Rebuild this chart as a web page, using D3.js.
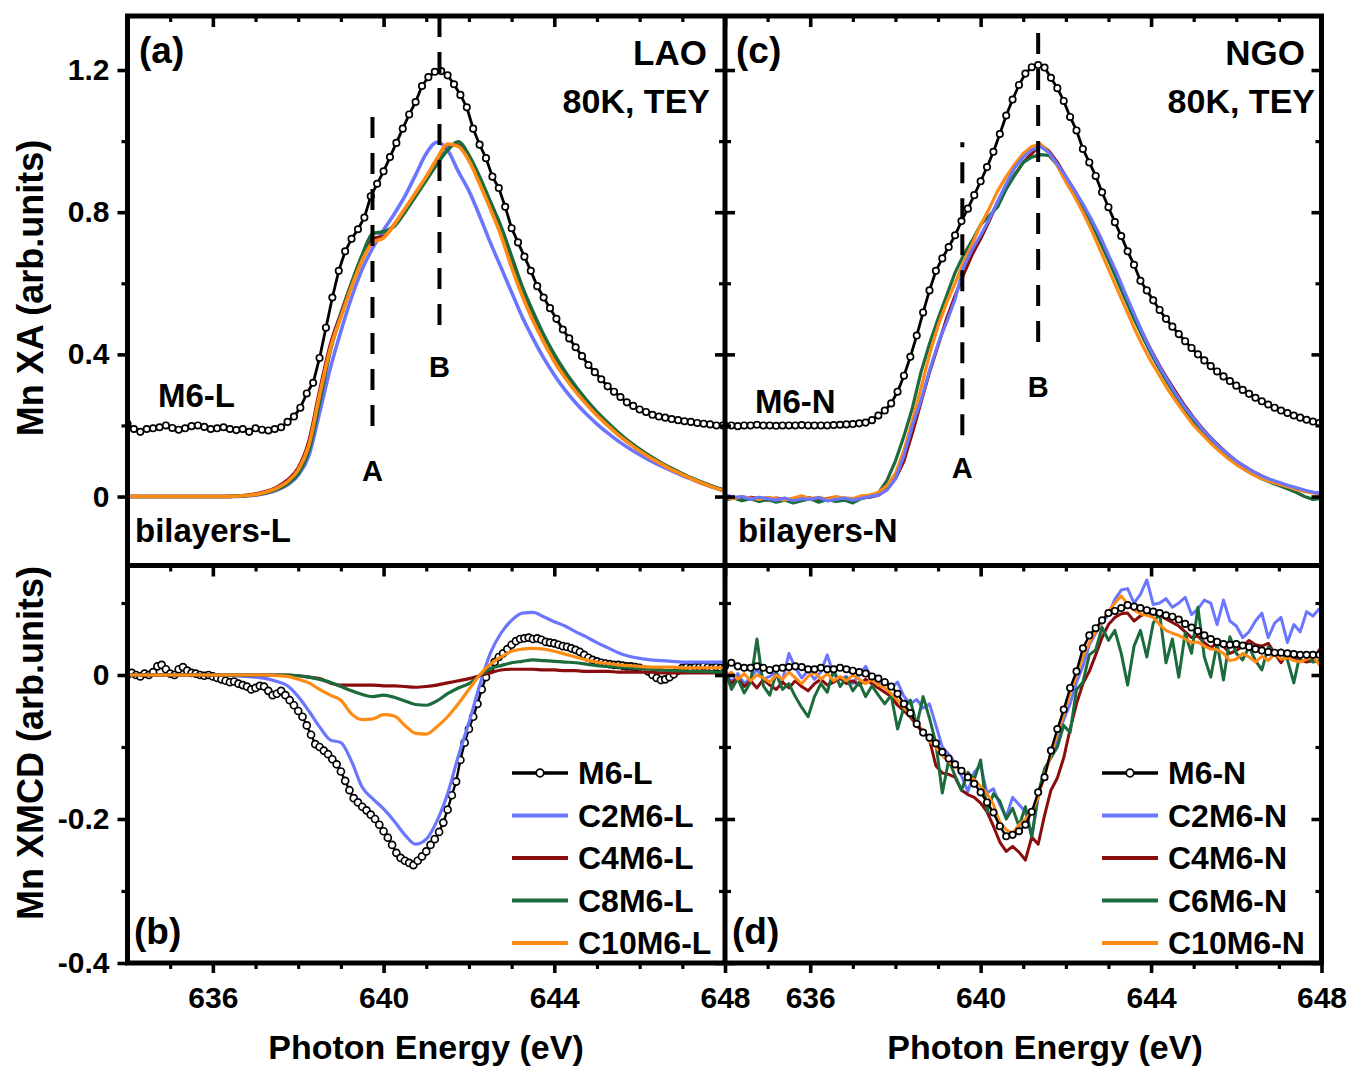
<!DOCTYPE html>
<html>
<head>
<meta charset="utf-8">
<script src="https://cdn.jsdelivr.net/npm/d3@7"></script>
<style>
  body { margin: 0; background: #fff; }
  svg text { font-family: "Liberation Sans", Arial, sans-serif; font-weight: bold; fill: #000; }
</style>
</head>
<body>
<svg id="chart" width="1351" height="1066"></svg>
<script>
// ---------------------------------------------------------------------------
// Mn L3-edge spectra. Every scan starts at 634 eV; each array below holds the
// intensities on its own uniform energy step.
// ---------------------------------------------------------------------------
const ENERGY_START = 634;

// (a) XA on LAO substrates
const STEP_XA_LAO_M6 = 0.15;
const xaLAO_M6 = [
  0.205,0.19,0.182,0.19,0.192,0.195,0.2,0.193,0.188,0.192,
  0.198,0.2,0.196,0.19,0.192,0.195,0.19,0.187,0.19,0.182,
  0.192,0.188,0.186,0.19,0.195,0.21,0.225,0.25,0.29,0.32,
  0.39,0.475,0.56,0.635,0.69,0.725,0.752,0.785,0.845,0.88,
  0.915,0.955,0.995,1.035,1.075,1.11,1.155,1.18,1.195,1.197,
  1.185,1.16,1.13,1.095,1.035,0.99,0.952,0.9,0.868,0.815,
  0.755,0.715,0.675,0.635,0.592,0.56,0.53,0.5,0.47,0.445,
  0.42,0.395,0.37,0.35,0.33,0.31,0.295,0.28,0.265,0.255,
  0.245,0.238,0.23,0.225,0.222,0.218,0.215,0.212,0.21,0.207,
  0.205,0.203,0.2,0.2
];
const STEP_XA_LAO_BI = 0.25;
const xaLAO_C2 = [
  0,0,0,0,0,0,0,0,0,0,
  0.0,0.002,0.004,0.009,0.018,0.033,0.06,0.115,0.235,0.36,
  0.465,0.56,0.64,0.7,0.75,0.795,0.845,0.905,0.965,0.997,
  0.975,0.915,0.86,0.79,0.715,0.645,0.575,0.505,0.445,0.39,
  0.342,0.3,0.264,0.232,0.204,0.179,0.156,0.136,0.118,0.101,
  0.086,0.072,0.059,0.047,0.035,0.025,0.015
];
const xaLAO_C4 = [
  0,0,0,0,0,0,0,0,0,0,
  0.001,0.003,0.007,0.014,0.026,0.046,0.08,0.155,0.295,0.425,
  0.515,0.6,0.675,0.725,0.732,0.765,0.808,0.852,0.898,0.948,
  0.99,0.988,0.95,0.885,0.815,0.742,0.655,0.575,0.505,0.445,
  0.39,0.343,0.302,0.266,0.233,0.204,0.177,0.153,0.131,0.111,
  0.094,0.078,0.063,0.049,0.037,0.026,0.016
];
const xaLAO_C8 = [
  0,0,0,0,0,0,0,0,0,0,
  0.001,0.002,0.005,0.011,0.02,0.036,0.065,0.13,0.265,0.41,
  0.51,0.6,0.68,0.74,0.745,0.76,0.8,0.845,0.89,0.935,
  0.975,0.998,0.96,0.9,0.83,0.76,0.675,0.59,0.52,0.455,
  0.4,0.352,0.31,0.272,0.238,0.208,0.18,0.155,0.133,0.113,
  0.095,0.079,0.064,0.05,0.038,0.027,0.017
];
const xaLAO_C10 = [
  0,0,0,0,0,0,0,0,0,0,
  0.001,0.003,0.006,0.013,0.024,0.042,0.075,0.145,0.285,0.415,
  0.505,0.59,0.665,0.715,0.728,0.765,0.81,0.855,0.9,0.95,
  0.992,0.985,0.945,0.88,0.81,0.735,0.645,0.565,0.495,0.435,
  0.38,0.335,0.295,0.26,0.228,0.2,0.173,0.15,0.128,0.109,
  0.092,0.076,0.062,0.048,0.036,0.025,0.015
];

// (b) XMCD on LAO substrates
const STEP_MCD_LAO_M6 = 0.1;
const mcdLAO_M6 = [
  0.0,0.003,0.0,-0.002,0.002,0.0,0.004,0.012,0.014,0.008,
  0.002,0.0,0.008,0.011,0.006,0.003,0.002,0.0,-0.001,0.0,
  -0.002,-0.004,-0.006,-0.008,-0.01,-0.009,-0.012,-0.014,-0.016,-0.02,
  -0.018,-0.015,-0.016,-0.022,-0.028,-0.026,-0.022,-0.028,-0.035,-0.042,
  -0.05,-0.058,-0.07,-0.083,-0.096,-0.1,-0.105,-0.11,-0.117,-0.124,
  -0.134,-0.147,-0.16,-0.171,-0.177,-0.183,-0.188,-0.194,-0.2,-0.208,
  -0.217,-0.226,-0.236,-0.247,-0.254,-0.258,-0.261,-0.264,-0.258,-0.252,
  -0.245,-0.236,-0.228,-0.218,-0.205,-0.187,-0.167,-0.148,-0.118,-0.094,
  -0.075,-0.058,-0.04,-0.02,-0.003,0.01,0.018,0.025,0.03,0.036,
  0.042,0.047,0.05,0.051,0.052,0.05,0.051,0.049,0.046,0.045,
  0.044,0.042,0.04,0.039,0.037,0.035,0.032,0.028,0.024,0.021,
  0.019,0.017,0.016,0.015,0.014,0.014,0.013,0.012,0.012,0.011,
  0.01,0.008,0.005,0.0,-0.004,-0.007,-0.006,-0.003,0.001,0.006,
  0.01,0.011,0.01,0.011,0.011,0.012,0.011,0.01,0.011,0.01,
  0.01
];
const STEP_MCD_LAO_BI = 0.25;
const mcdLAO_C2 = [
  0,0,0,0,0,0,0,0,0,0,
  -0.001,-0.002,-0.003,-0.005,-0.009,-0.015,-0.03,-0.05,-0.072,-0.09,
  -0.094,-0.12,-0.156,-0.172,-0.186,-0.203,-0.222,-0.235,-0.228,-0.203,
  -0.165,-0.113,-0.066,-0.015,0.03,0.058,0.076,0.086,0.087,0.081,
  0.074,0.068,0.06,0.053,0.045,0.038,0.031,0.026,0.023,0.021,
  0.02,0.019,0.018,0.018,0.018,0.018,0.018
];
const mcdLAO_C4 = [
  0,0,0,0,0,0,0,0,0,0,
  0,0,0,0,0,0,-0.001,-0.003,-0.005,-0.011,
  -0.014,-0.014,-0.014,-0.014,-0.015,-0.015,-0.016,-0.017,-0.016,-0.014,
  -0.011,-0.008,-0.005,-0.001,0.003,0.007,0.008,0.008,0.008,0.007,
  0.007,0.006,0.006,0.005,0.005,0.005,0.004,0.004,0.004,0.004,
  0.003,0.003,0.003,0.003,0.003,0.003,0.003
];
const mcdLAO_C8 = [
  0,0,0,0,0,0,0,0,0,0,
  0,0,0,0,0,0,-0.001,-0.003,-0.006,-0.01,
  -0.016,-0.022,-0.027,-0.03,-0.028,-0.031,-0.036,-0.041,-0.042,-0.036,
  -0.026,-0.018,-0.012,-0.001,0.009,0.013,0.017,0.019,0.021,0.02,
  0.019,0.018,0.017,0.015,0.013,0.012,0.011,0.01,0.009,0.008,
  0.007,0.006,0.006,0.005,0.005,0.004,0.004
];
const mcdLAO_C10 = [
  0,0,0,0,0,0,0,0,0,0,
  0,0,0,0,-0.001,-0.002,-0.006,-0.011,-0.02,-0.028,
  -0.035,-0.054,-0.062,-0.061,-0.055,-0.057,-0.07,-0.081,-0.082,-0.072,
  -0.058,-0.04,-0.02,0.0,0.015,0.025,0.033,0.036,0.037,0.036,
  0.033,0.029,0.025,0.021,0.018,0.016,0.014,0.013,0.012,0.011,
  0.011,0.011,0.01,0.01,0.01,0.01,0.01
];

// (c) XA on NGO substrates
const STEP_XA_NGO_M6 = 0.15;
const xaNGO_M6 = [
  0.2,0.2,0.198,0.2,0.2,0.202,0.2,0.2,0.199,0.2,
  0.2,0.2,0.201,0.2,0.2,0.2,0.2,0.201,0.202,0.203,
  0.204,0.206,0.208,0.215,0.228,0.242,0.262,0.295,0.34,0.393,
  0.453,0.518,0.58,0.635,0.67,0.702,0.735,0.775,0.81,0.848,
  0.887,0.927,0.97,1.02,1.072,1.117,1.158,1.19,1.208,1.214,
  1.207,1.178,1.149,1.113,1.068,1.03,0.978,0.94,0.902,0.856,
  0.814,0.772,0.733,0.69,0.652,0.607,0.58,0.552,0.525,0.5,
  0.478,0.457,0.437,0.418,0.4,0.383,0.367,0.352,0.338,0.325,
  0.312,0.3,0.289,0.278,0.268,0.259,0.25,0.242,0.235,0.228,
  0.222,0.216,0.211,0.207
];
const STEP_XA_NGO_BI = 0.2;
const xaNGO_C2 = [
  0.005,-0.002,0.0,-0.008,-0.002,-0.006,-0.01,-0.004,-0.012,-0.006,
  -0.008,-0.003,-0.012,-0.008,-0.004,-0.01,-0.005,0.0,0.004,0.018,
  0.05,0.115,0.2,0.27,0.355,0.43,0.49,0.555,0.645,0.695,
  0.735,0.78,0.83,0.88,0.925,0.955,0.975,0.985,0.968,0.935,
  0.9,0.862,0.823,0.78,0.733,0.68,0.628,0.57,0.515,0.46,
  0.41,0.365,0.325,0.285,0.25,0.22,0.19,0.165,0.14,0.12,
  0.1,0.085,0.07,0.058,0.048,0.04,0.032,0.025,0.018,0.012,
  0.008
];
const xaNGO_C4 = [
  0.0,-0.004,-0.008,-0.002,-0.006,-0.01,-0.004,-0.008,-0.012,-0.006,
  -0.004,-0.01,-0.006,-0.002,-0.008,-0.012,-0.004,-0.002,0.004,0.02,
  0.05,0.1,0.18,0.265,0.35,0.425,0.5,0.565,0.625,0.68,
  0.725,0.775,0.83,0.87,0.905,0.94,0.965,0.99,0.972,0.94,
  0.9,0.862,0.82,0.775,0.725,0.672,0.62,0.565,0.51,0.46,
  0.412,0.368,0.328,0.29,0.254,0.222,0.192,0.166,0.142,0.12,
  0.1,0.084,0.07,0.058,0.047,0.038,0.031,0.024,0.016,0.012,
  0.008
];
const xaNGO_C6 = [
  -0.01,-0.004,-0.012,-0.006,-0.014,-0.008,-0.016,-0.01,-0.018,-0.012,
  -0.006,-0.016,-0.008,-0.014,-0.01,-0.018,-0.006,0.0,0.01,0.045,
  0.1,0.17,0.25,0.35,0.43,0.5,0.565,0.63,0.68,0.72,
  0.765,0.79,0.815,0.865,0.905,0.94,0.955,0.962,0.96,0.932,
  0.895,0.858,0.815,0.77,0.718,0.665,0.61,0.555,0.5,0.45,
  0.402,0.358,0.318,0.28,0.245,0.212,0.184,0.158,0.134,0.112,
  0.093,0.076,0.062,0.05,0.04,0.031,0.022,0.012,0.0,-0.008,
  -0.005
];
const xaNGO_C10 = [
  -0.003,-0.006,0.0,-0.004,-0.008,-0.002,-0.006,-0.01,-0.004,0.002,
  -0.006,-0.002,-0.008,0.0,-0.004,-0.006,0.002,0.004,0.012,0.03,
  0.065,0.13,0.215,0.305,0.4,0.48,0.545,0.6,0.66,0.71,
  0.765,0.81,0.86,0.9,0.935,0.965,0.985,0.992,0.968,0.93,
  0.885,0.845,0.8,0.75,0.695,0.64,0.585,0.53,0.475,0.425,
  0.38,0.34,0.3,0.265,0.232,0.2,0.175,0.15,0.128,0.108,
  0.09,0.075,0.062,0.05,0.042,0.035,0.028,0.02,0.014,0.01,
  0.005
];

// (d) XMCD on NGO substrates
const STEP_MCD_NGO = 0.15;
const mcdNGO_M6 = [
  0.012,0.017,0.012,0.01,0.01,0.012,0.01,0.007,0.009,0.01,
  0.011,0.012,0.011,0.008,0.008,0.01,0.008,0.008,0.01,0.008,
  0.006,0.004,0.002,-0.002,-0.005,-0.01,-0.016,-0.026,-0.04,-0.053,
  -0.068,-0.08,-0.087,-0.095,-0.107,-0.116,-0.124,-0.133,-0.142,-0.151,
  -0.163,-0.177,-0.191,-0.21,-0.224,-0.222,-0.217,-0.208,-0.19,-0.163,
  -0.142,-0.105,-0.075,-0.048,-0.018,0.005,0.037,0.055,0.065,0.076,
  0.086,0.089,0.093,0.097,0.095,0.093,0.09,0.088,0.086,0.083,
  0.081,0.077,0.071,0.066,0.061,0.055,0.05,0.046,0.043,0.042,
  0.043,0.041,0.039,0.036,0.034,0.032,0.031,0.031,0.03,0.029,
  0.028,0.028,0.028,0.028
];
const mcdNGO_C2 = [
  0.005,-0.01,0.002,-0.012,-0.004,0.008,-0.006,-0.002,0.004,-0.008,
  0.03,0.01,-0.004,0.006,-0.006,0.004,0.028,0.0,-0.006,-0.002,
  -0.012,0.0,0.012,-0.004,-0.012,-0.006,-0.018,-0.01,-0.03,-0.04,
  -0.034,-0.046,-0.04,-0.07,-0.1,-0.11,-0.122,-0.14,-0.162,-0.135,
  -0.125,-0.164,-0.158,-0.18,-0.197,-0.17,-0.18,-0.19,-0.225,-0.17,
  -0.135,-0.112,-0.09,-0.062,-0.04,-0.01,0.012,0.042,0.058,0.072,
  0.084,0.105,0.118,0.12,0.1,0.112,0.132,0.098,0.1,0.106,
  0.094,0.1,0.108,0.084,0.092,0.104,0.1,0.07,0.104,0.075,
  0.068,0.052,0.06,0.075,0.086,0.052,0.072,0.08,0.045,0.07,
  0.06,0.088,0.082,0.092
];
const mcdNGO_C4 = [
  0.0,-0.012,-0.004,-0.016,-0.008,-0.018,-0.006,-0.014,-0.02,-0.01,
  -0.018,-0.008,-0.016,-0.022,-0.012,-0.006,-0.014,-0.01,-0.004,-0.012,
  -0.008,-0.014,-0.006,-0.012,-0.018,-0.024,-0.03,-0.042,-0.05,-0.058,
  -0.07,-0.08,-0.09,-0.126,-0.136,-0.138,-0.142,-0.16,-0.166,-0.17,
  -0.178,-0.19,-0.21,-0.232,-0.245,-0.238,-0.246,-0.257,-0.225,-0.235,
  -0.195,-0.16,-0.143,-0.115,-0.075,-0.04,-0.012,0.005,0.028,0.052,
  0.07,0.08,0.085,0.086,0.075,0.082,0.086,0.085,0.083,0.078,
  0.073,0.068,0.06,0.052,0.054,0.045,0.038,0.044,0.04,0.03,
  0.034,0.04,0.048,0.042,0.04,0.044,0.03,0.017,0.03,0.024,
  0.021,0.018,0.02,0.035
];
const mcdNGO_C6 = [
  0.008,-0.02,-0.005,-0.025,-0.01,0.05,-0.015,-0.028,0.002,-0.02,
  -0.012,-0.03,-0.045,-0.058,-0.03,-0.012,-0.024,0.008,-0.016,-0.004,
  -0.022,-0.01,-0.03,-0.015,-0.028,-0.04,-0.028,-0.075,-0.045,-0.035,
  -0.07,-0.03,-0.06,-0.095,-0.164,-0.118,-0.14,-0.16,-0.135,-0.145,
  -0.118,-0.19,-0.165,-0.175,-0.2,-0.185,-0.21,-0.183,-0.225,-0.165,
  -0.13,-0.115,-0.1,-0.07,-0.08,-0.02,-0.01,0.028,0.035,0.066,
  0.048,0.062,0.03,-0.014,0.04,0.062,0.025,0.072,0.086,0.017,
  0.05,-0.003,0.058,0.03,0.094,0.025,-0.003,0.044,-0.007,0.053,
  0.03,0.021,0.039,0.02,0.007,0.039,0.03,0.035,0.021,-0.011,
  0.03,0.025,0.018,0.02
];
const mcdNGO_C10 = [
  -0.002,0.004,-0.006,0.002,-0.008,0.0,-0.004,-0.01,0.0,-0.006,
  0.004,-0.004,-0.012,-0.002,0.004,-0.006,0.002,-0.008,-0.002,-0.008,
  0.0,-0.006,-0.012,-0.006,-0.014,-0.018,-0.026,-0.035,-0.045,-0.055,
  -0.066,-0.078,-0.092,-0.1,-0.112,-0.12,-0.128,-0.13,-0.142,-0.145,
  -0.155,-0.165,-0.18,-0.205,-0.215,-0.22,-0.208,-0.2,-0.19,-0.17,
  -0.14,-0.11,-0.08,-0.055,-0.025,0.0,0.025,0.045,0.06,0.075,
  0.088,0.1,0.11,0.098,0.09,0.085,0.083,0.08,0.07,0.062,
  0.058,0.055,0.05,0.045,0.046,0.04,0.036,0.035,0.03,0.02,
  0.022,0.03,0.025,0.018,0.026,0.02,0.03,0.022,0.024,0.02,
  0.018,0.022,0.026,0.014
];

// Sample names, tick values, feature energies
const namesLAO = ["M6-L", "C2M6-L", "C4M6-L", "C8M6-L", "C10M6-L"];
const namesNGO = ["M6-N", "C2M6-N", "C4M6-N", "C6M6-N", "C10M6-N"];
const xMajorTicks = [636, 640, 644, 648];
const xMinorTicks = [635, 637, 638, 639, 641, 642, 643, 645, 646, 647];
const xaMajorTicks = [0, 0.4, 0.8, 1.2];
const xaMinorTicks = [0.2, 0.6, 1.0];
const mcdMajorTicks = [0, -0.2, -0.4];
const mcdMinorTicks = [0.1, -0.1, -0.3];
const featureLAO = { A: 639.74, B: 641.31 };
const featureNGO = { A: 639.57, B: 641.35 };

// ---------------------------------------------------------------------------
const COLORS = ["#000000", "#6b76ff", "#8b0c0c", "#1b6b3c", "#ff8a14"];
const FRAME = { left: 127.5, mid: 725, right: 1321.5, top: 16, split: 565.5, bottom: 963 };
const TICK_FONT = 30;

const svg = d3.select("#chart");

const xL = d3.scaleLinear().domain([634, 648]).range([FRAME.left, FRAME.mid]);
const xR = d3.scaleLinear().domain([634, 648]).range([FRAME.mid, FRAME.right]);
const yXA = d3.scaleLinear().domain([-0.194, 1.352]).range([FRAME.split, FRAME.top]);
const yMCD = d3.scaleLinear().domain([-0.4, 0.1521]).range([FRAME.bottom, FRAME.split]);

const tickFmt = d => d === 0 ? "0" : d.toFixed(1);

// clip regions for the four panels
const defs = svg.append("defs");
function clip(id, x0, x1, y0, y1) {
  defs.append("clipPath").attr("id", id).append("rect")
    .attr("x", x0).attr("y", y0).attr("width", x1 - x0).attr("height", y1 - y0);
}
clip("clipA", FRAME.left, FRAME.mid, FRAME.top, FRAME.split);
clip("clipB", FRAME.left, FRAME.mid, FRAME.split, FRAME.bottom);
clip("clipC", FRAME.mid, FRAME.right, FRAME.top, FRAME.split);
clip("clipD", FRAME.mid, FRAME.right, FRAME.split, FRAME.bottom);

function toPoints(values, step) {
  return values.map((v, i) => [ENERGY_START + i * step, v]);
}

function drawCurve(g, x, y, c) {
  const pts = toPoints(c.values, c.step);
  const line = d3.line().x(d => x(d[0])).y(d => y(d[1]))
    .curve(c.smooth ? d3.curveMonotoneX : d3.curveLinear);
  g.append("path").datum(pts).attr("d", line)
    .attr("fill", "none").attr("stroke", c.color).attr("stroke-width", c.width)
    .attr("stroke-linejoin", "round").attr("stroke-linecap", "round");
  if (c.marker) {
    g.append("g").selectAll("circle").data(pts).join("circle")
      .attr("cx", d => x(d[0])).attr("cy", d => y(d[1])).attr("r", c.marker)
      .attr("fill", "#fff").attr("stroke", "#000").attr("stroke-width", 1.7);
  }
}

function drawPanel(clipId, x, y, curves) {
  const g = svg.append("g").attr("clip-path", `url(#${clipId})`);
  curves.forEach(c => drawCurve(g, x, y, c));
}

// (a)
drawPanel("clipA", xL, yXA, [
  { values: xaLAO_C2, step: STEP_XA_LAO_BI, color: COLORS[1], width: 3.6, smooth: true },
  { values: xaLAO_C4, step: STEP_XA_LAO_BI, color: COLORS[2], width: 3.6, smooth: true },
  { values: xaLAO_C8, step: STEP_XA_LAO_BI, color: COLORS[3], width: 3.6, smooth: true },
  { values: xaLAO_C10, step: STEP_XA_LAO_BI, color: COLORS[4], width: 3.6, smooth: true },
  { values: xaLAO_M6, step: STEP_XA_LAO_M6, color: COLORS[0], width: 2.8, marker: 3.2 }
]);
// (b)
drawPanel("clipB", xL, yMCD, [
  { values: mcdLAO_M6, step: STEP_MCD_LAO_M6, color: COLORS[0], width: 2.4, marker: 3.5 },
  { values: mcdLAO_C2, step: STEP_MCD_LAO_BI, color: COLORS[1], width: 3.2, smooth: true },
  { values: mcdLAO_C4, step: STEP_MCD_LAO_BI, color: COLORS[2], width: 3.2, smooth: true },
  { values: mcdLAO_C8, step: STEP_MCD_LAO_BI, color: COLORS[3], width: 3.2, smooth: true },
  { values: mcdLAO_C10, step: STEP_MCD_LAO_BI, color: COLORS[4], width: 3.2, smooth: true }
]);
// (c)
drawPanel("clipC", xR, yXA, [
  { values: xaNGO_M6, step: STEP_XA_NGO_M6, color: COLORS[0], width: 2.8, marker: 3.2 },
  { values: xaNGO_C4, step: STEP_XA_NGO_BI, color: COLORS[2], width: 3.2 },
  { values: xaNGO_C6, step: STEP_XA_NGO_BI, color: COLORS[3], width: 3.2 },
  { values: xaNGO_C10, step: STEP_XA_NGO_BI, color: COLORS[4], width: 3.2 },
  { values: xaNGO_C2, step: STEP_XA_NGO_BI, color: COLORS[1], width: 3.2 }
]);
// (d)
drawPanel("clipD", xR, yMCD, [
  { values: mcdNGO_C2, step: STEP_MCD_NGO, color: COLORS[1], width: 3 },
  { values: mcdNGO_C4, step: STEP_MCD_NGO, color: COLORS[2], width: 3 },
  { values: mcdNGO_C6, step: STEP_MCD_NGO, color: COLORS[3], width: 3 },
  { values: mcdNGO_C10, step: STEP_MCD_NGO, color: COLORS[4], width: 3 },
  { values: mcdNGO_M6, step: STEP_MCD_NGO, color: COLORS[0], width: 2.4, marker: 3.2 }
]);

// Dashed markers for features A and B
function dashed(x, y, e, vTop, vBottom, offset) {
  svg.append("line")
    .attr("x1", x(e)).attr("x2", x(e)).attr("y1", y(vTop)).attr("y2", y(vBottom))
    .attr("stroke", "#000").attr("stroke-width", 4)
    .attr("stroke-dasharray", "21,15").attr("stroke-dashoffset", offset);
}
dashed(xL, yXA, featureLAO.A, 1.068, 0.17, 0);
dashed(xL, yXA, featureLAO.B, 1.352, 0.454, 0);
dashed(xR, yXA, featureNGO.A, 0.997, 0.149, 16);
dashed(xR, yXA, featureNGO.B, 1.304, 0.403, 0);

// ---------------------------------------------------------------------------
// Axes
function styleAxis(g, width) {
  g.select(".domain").remove();
  g.selectAll(".tick line").attr("stroke", "#000").attr("stroke-width", width);
  g.selectAll(".tick text").attr("font-size", TICK_FONT)
    .style("font-family", '"Liberation Sans", Arial, sans-serif')
    .style("font-weight", "bold").attr("fill", "#000");
}

function xAxisSet(x, yPos, withLabels) {
  const gMaj = svg.append("g").attr("transform", `translate(0,${yPos})`)
    .call(d3.axisBottom(x).tickValues(xMajorTicks)
      .tickSize(withLabels ? 10 : 11).tickPadding(14)
      .tickFormat(withLabels ? d3.format("d") : () => ""));
  styleAxis(gMaj, 3.6);
  const gMin = svg.append("g").attr("transform", `translate(0,${yPos})`)
    .call(d3.axisBottom(x).tickValues(xMinorTicks).tickSize(6).tickFormat(() => ""));
  styleAxis(gMin, 3.2);
}
[xL, xR].forEach(x => {
  xAxisSet(x, FRAME.top, false);
  xAxisSet(x, FRAME.split, false);
  xAxisSet(x, FRAME.bottom, true);
});

function yAxisSet(y, xPos, major, minor, kind, withLabels) {
  const make = kind === "left" ? d3.axisLeft : d3.axisRight;
  const gMaj = svg.append("g").attr("transform", `translate(${xPos},0)`)
    .call(make(y).tickValues(major).tickSize(10).tickPadding(8)
      .tickFormat(withLabels ? tickFmt : () => ""));
  styleAxis(gMaj, 3.6);
  const gMin = svg.append("g").attr("transform", `translate(${xPos},0)`)
    .call(make(y).tickValues(minor).tickSize(6).tickFormat(() => ""));
  styleAxis(gMin, 3.2);
}
// outer left axes with labels
yAxisSet(yXA, FRAME.left, xaMajorTicks, xaMinorTicks, "left", true);
yAxisSet(yMCD, FRAME.left, mcdMajorTicks, mcdMinorTicks, "left", true);
// shared divider: ticks on both sides
["left", "right"].forEach(k => {
  yAxisSet(yXA, FRAME.mid, xaMajorTicks, xaMinorTicks, k, false);
  yAxisSet(yMCD, FRAME.mid, mcdMajorTicks, mcdMinorTicks, k, false);
});
// right frame: inward ticks
yAxisSet(yXA, FRAME.right, xaMajorTicks, xaMinorTicks, "left", false);
yAxisSet(yMCD, FRAME.right, mcdMajorTicks, mcdMinorTicks, "left", false);

// frame
svg.append("rect")
  .attr("x", FRAME.left).attr("y", FRAME.top)
  .attr("width", FRAME.right - FRAME.left).attr("height", FRAME.bottom - FRAME.top)
  .attr("fill", "none").attr("stroke", "#000").attr("stroke-width", 5);
svg.append("line").attr("x1", FRAME.left).attr("x2", FRAME.right)
  .attr("y1", FRAME.split).attr("y2", FRAME.split).attr("stroke", "#000").attr("stroke-width", 5);
svg.append("line").attr("x1", FRAME.mid).attr("x2", FRAME.mid)
  .attr("y1", FRAME.top).attr("y2", FRAME.bottom).attr("stroke", "#000").attr("stroke-width", 5);

// ---------------------------------------------------------------------------
// Text
function label(x, y, str, size, anchor, rotate) {
  const t = svg.append("text").attr("font-size", size)
    .attr("text-anchor", anchor || "start").text(str);
  if (rotate) t.attr("transform", `translate(${x},${y}) rotate(${rotate})`);
  else t.attr("x", x).attr("y", y);
  return t;
}

// axis titles
label(43, 288, "Mn XA (arb.units)", 36, "middle", -90);
label(43, 743, "Mn XMCD (arb.units)", 36, "middle", -90);
label(426, 1059, "Photon Energy (eV)", 34, "middle");
label(1045, 1059, "Photon Energy (eV)", 34, "middle");

// panel tags and conditions
label(139, 63, "(a)", 37);
label(736, 63, "(c)", 37);
label(134, 944, "(b)", 37);
label(732, 944, "(d)", 37);
label(707, 65, "LAO", 35, "end");
label(710, 113, "80K, TEY", 34, "end");
label(1305, 65, "NGO", 35, "end");
label(1315, 113, "80K, TEY", 34, "end");

// series annotations
label(158, 407, namesLAO[0], 33);
label(135, 542, "bilayers-L", 33);
label(755, 413, namesNGO[0], 33);
label(738, 542, "bilayers-N", 33);

// feature letters
label(xL(featureLAO.A), yXA(0.045), "A", 29, "middle");
label(xL(featureLAO.B), yXA(0.335), "B", 29, "middle");
label(xR(featureNGO.A), yXA(0.051), "A", 29, "middle");
label(xR(featureNGO.B), yXA(0.279), "B", 29, "middle");

// legends
function legend(x0, names) {
  names.forEach((name, i) => {
    const yy = 773 + i * 42.5;
    svg.append("line").attr("x1", x0).attr("x2", x0 + 56).attr("y1", yy).attr("y2", yy)
      .attr("stroke", COLORS[i]).attr("stroke-width", i === 0 ? 3.6 : 4.2);
    if (i === 0) {
      svg.append("circle").attr("cx", x0 + 28).attr("cy", yy).attr("r", 3.8)
        .attr("fill", "#fff").attr("stroke", "#000").attr("stroke-width", 1.8);
    }
    label(x0 + 66, yy, name, 32).attr("dy", "0.35em");
  });
}
legend(512, namesLAO);
legend(1102, namesNGO);
</script>
</body>
</html>
